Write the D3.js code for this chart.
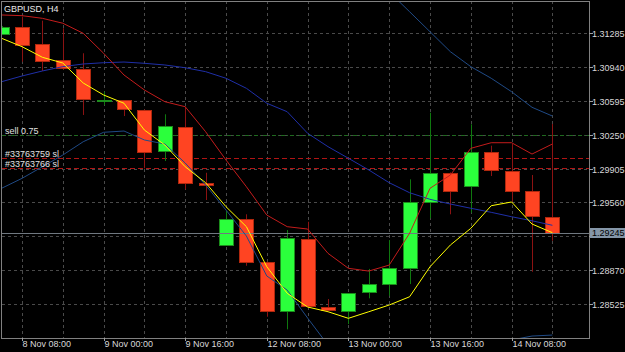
<!DOCTYPE html>
<html><head><meta charset="utf-8">
<script src="https://cdn.jsdelivr.net/npm/d3@7"></script>
<style>html,body{margin:0;padding:0;background:#000;overflow:hidden}svg{display:block}</style>
</head><body><svg id="c" width="625" height="352"></svg>
<script>
const symbolTitle = "GBPUSD, H4";
const times = ["8 Nov 04:00","8 Nov 08:00","8 Nov 12:00","8 Nov 16:00","8 Nov 20:00","9 Nov 00:00","9 Nov 04:00","9 Nov 08:00","9 Nov 12:00","9 Nov 16:00","9 Nov 20:00","12 Nov 00:00","12 Nov 04:00","12 Nov 08:00","12 Nov 12:00","12 Nov 16:00","12 Nov 20:00","13 Nov 00:00","13 Nov 04:00","13 Nov 08:00","13 Nov 12:00","13 Nov 16:00","13 Nov 20:00","14 Nov 00:00","14 Nov 04:00","14 Nov 08:00","14 Nov 12:00","14 Nov 16:00"];
const open  = [1.31275,1.31346,1.31170,1.31005,1.30919,1.30591,1.30598,1.30502,1.30076,1.30330,1.29758,1.29131,1.29392,1.28955,1.28460,1.29192,1.28498,1.28460,1.28653,1.28731,1.28894,1.29565,1.29862,1.29727,1.30073,1.29880,1.29673,1.29412];
const high  = [1.31353,1.31448,1.31407,1.31330,1.31076,1.30685,1.30600,1.30505,1.30456,1.30533,1.29862,1.29473,1.29440,1.28960,1.29280,1.29364,1.28579,1.28640,1.28885,1.29178,1.29795,1.30472,1.29865,1.30354,1.30137,1.30154,1.29839,1.30357];
const low   = [1.31268,1.30990,1.30896,1.30906,1.30449,1.30550,1.30438,1.29907,1.29981,1.29694,1.29585,1.29125,1.28917,1.28399,1.28271,1.28508,1.28467,1.28325,1.28586,1.28612,1.28731,1.29399,1.29440,1.29456,1.29829,1.29568,1.28856,1.29171];
const close = [1.31346,1.31167,1.30999,1.30919,1.30611,1.30601,1.30502,1.30076,1.30334,1.29758,1.29740,1.29392,1.28958,1.28460,1.29199,1.28508,1.28467,1.28640,1.28731,1.28894,1.29562,1.29862,1.29679,1.30076,1.29887,1.29673,1.29422,1.29245];
const maYellow = [1.31228,1.31143,1.31035,1.30977,1.30774,1.30652,1.30568,1.30296,1.30144,1.29923,1.29761,1.29517,1.29314,1.28907,1.28637,1.28498,1.28450,1.28383,1.28450,1.28518,1.28602,1.28907,1.29128,1.29297,1.29527,1.29565,1.29341,1.29253];
const envRed = [1.31465,1.31458,1.31431,1.31381,1.31279,1.31076,1.30855,1.30703,1.30584,1.30533,1.30279,1.29991,1.29720,1.29432,1.29314,1.29290,1.29043,1.28891,1.28863,1.28924,1.29247,1.29704,1.29839,1.30110,1.30167,1.30167,1.30052,1.30154];
const bbMid = [1.30787,1.30845,1.30896,1.30940,1.30967,1.30980,1.30987,1.30974,1.30957,1.30929,1.30889,1.30822,1.30720,1.30568,1.30482,1.30263,1.30127,1.30009,1.29890,1.29761,1.29659,1.29592,1.29544,1.29501,1.29460,1.29415,1.29374,1.29328];
const bbUpper = [1.31871,1.31881,1.31871,1.31841,1.31760,1.31689,1.31689,1.31750,1.31760,1.31902,1.32044,1.32156,1.32227,1.32329,1.32298,1.32146,1.32146,1.32156,1.31926,1.31699,1.31498,1.31295,1.31092,1.30940,1.30822,1.30685,1.30527,1.30438];
const bbLower = [1.29704,1.29805,1.29923,1.30042,1.30177,1.30273,1.30286,1.30195,1.30154,1.29961,1.29737,1.29483,1.29219,1.28813,1.28670,1.28386,1.28111,1.27857,1.27756,1.27705,1.27756,1.27857,1.27959,1.28061,1.28142,1.28163,1.28203,1.28213];
const priceTicks = [1.31285,1.30940,1.30595,1.30250,1.29905,1.29560,1.29215,1.28870,1.28525];
const timeTicks = ["8 Nov 08:00","9 Nov 00:00","9 Nov 16:00","12 Nov 08:00","13 Nov 00:00","13 Nov 16:00","14 Nov 08:00"];
const timeGrid = ["8 Nov 08:00","8 Nov 16:00","9 Nov 00:00","9 Nov 08:00","9 Nov 16:00","12 Nov 00:00","12 Nov 08:00","12 Nov 16:00","13 Nov 00:00","13 Nov 08:00","13 Nov 16:00","14 Nov 00:00","14 Nov 08:00","14 Nov 16:00"];
const bidPrice = 1.29245;
const orderPrices = [1.30250, 1.30009, 1.29907];
const orderLabels = ["sell 0.75", "#33763759 sl", "#33763766 sl"];
const orderKinds = ["sell", "sl", "sl"];

const svg = d3.select("#c");
const L = 2, R = 589, T = 1, B = 338;
const FONT = "'Liberation Sans', Arial, sans-serif";
const x = d3.scalePoint().domain(times).range([1.6, 552.4]);
const y = d3.scaleLinear().domain([1.28183, 1.31607]).range([B, T]);

svg.append("rect").attr("width", 625).attr("height", 352).attr("fill", "#000");
svg.append("defs").append("clipPath").attr("id", "clip")
  .append("rect").attr("x", L).attr("y", T + 1).attr("width", R - L).attr("height", B - T - 1);
const plot = svg.append("g").attr("clip-path", "url(#clip)");

// grid
const gridColor = "#4a4a4a";
plot.selectAll(".hg").data(priceTicks).join("line")
  .attr("x1", L).attr("x2", R)
  .attr("y1", d => Math.round(y(d)) + 0.5).attr("y2", d => Math.round(y(d)) + 0.5)
  .attr("stroke", gridColor).attr("stroke-dasharray", "3,3");
plot.selectAll(".vg").data(timeGrid).join("line")
  .attr("x1", d => Math.round(x(d)) + 0.5).attr("x2", d => Math.round(x(d)) + 0.5)
  .attr("y1", T).attr("y2", B)
  .attr("stroke", gridColor).attr("stroke-dasharray", "3,3");

// order lines
orderPrices.forEach((p, i) => {
  const yy = Math.round(y(p)) + 0.5;
  plot.append("line").attr("x1", L).attr("x2", R).attr("y1", yy).attr("y2", yy)
    .attr("stroke", orderKinds[i] === "sell" ? "#1f6a1f" : "#b01414")
    .attr("stroke-dasharray", orderKinds[i] === "sell" ? "4,2,1,2" : "5,3");
});

// candles
const idx = d3.range(times.length);
const bull = i => close[i] >= open[i];
plot.selectAll(".wick").data(idx).join("line")
  .attr("x1", i => Math.round(x(times[i])) + 0.5).attr("x2", i => Math.round(x(times[i])) + 0.5)
  .attr("y1", i => y(high[i])).attr("y2", i => y(low[i]))
  .attr("stroke", i => bull(i) ? "#0f780f" : "#8c1212");
plot.selectAll(".body").data(idx).join("rect")
  .attr("x", i => Math.round(x(times[i])) - 6.5)
  .attr("width", 14)
  .attr("y", i => Math.round(y(Math.max(open[i], close[i]))) + 0.5)
  .attr("height", i => Math.max(1, Math.round(Math.abs(y(open[i]) - y(close[i])))))
  .attr("fill", i => bull(i) ? "#2bff3c" : "#ff4422")
  .attr("stroke", i => bull(i) ? "#1c8c1c" : "#b0280e");

// bid line
plot.append("line").attr("x1", L).attr("x2", R)
  .attr("y1", Math.round(y(bidPrice)) + 0.5).attr("y2", Math.round(y(bidPrice)) + 0.5)
  .attr("stroke", "#707880");

// indicator lines
const line = arr => d3.line().x((d, i) => x(times[i])).y(d => y(d))(arr);
[[bbUpper, "#1f4a86"], [bbLower, "#1f4a86"], [bbMid, "#1f2fa8"], [envRed, "#c41c1c"], [maYellow, "#ffff00"]]
  .forEach(([arr, col]) => {
    plot.append("path").attr("d", line(arr)).attr("fill", "none").attr("stroke", col).attr("stroke-width", 1);
  });

// frame
svg.append("rect").attr("x", L - 0.5).attr("y", T + 0.5).attr("width", R - L + 1).attr("height", B - T)
  .attr("fill", "none").attr("stroke", "#808080");

// price axis
const pa = svg.append("g");
const by = Math.round(y(bidPrice));
priceTicks.forEach(p => {
  const yy = Math.round(y(p)) + 0.5;
  pa.append("line").attr("x1", R).attr("x2", R + 4).attr("y1", yy).attr("y2", yy).attr("stroke", "#a0a0a0");
  // the tick label hidden under the bid price box is not drawn
  if (Math.abs(yy - by) > 8) {
    pa.append("text").attr("x", R + 3).attr("y", yy + 3.2).text(p.toFixed(5))
      .attr("fill", "#d8d8d8").attr("font-family", FONT).attr("font-size", "9px");
  }
});
pa.append("rect").attr("x", R + 1).attr("y", by - 5).attr("width", 625 - R).attr("height", 10).attr("fill", "#8496a8");
pa.append("text").attr("x", R + 3).attr("y", by + 3.2).text(bidPrice.toFixed(5))
  .attr("fill", "#000").attr("font-family", FONT).attr("font-size", "9px");

// time axis
const ta = svg.append("g");
timeTicks.forEach(t => {
  const xx = Math.round(x(t)) + 0.5;
  ta.append("line").attr("x1", xx).attr("x2", xx).attr("y1", B).attr("y2", B + 3).attr("stroke", "#a0a0a0");
  ta.append("text").attr("x", xx).attr("y", B + 9).text(t)
    .attr("fill", "#d8d8d8").attr("font-family", FONT).attr("font-size", "9px");
});

// labels
svg.append("text").attr("x", 4).attr("y", 11.5).text(symbolTitle)
  .attr("fill", "#e8e8e8").attr("font-family", FONT).attr("font-size", "9px");
orderPrices.forEach((p, i) => {
  svg.append("text").attr("x", 5).attr("y", Math.round(y(p)) - 1).text(orderLabels[i])
    .attr("fill", "#e0e0e0").attr("font-family", FONT).attr("font-size", "9px");
});
</script></body></html>
